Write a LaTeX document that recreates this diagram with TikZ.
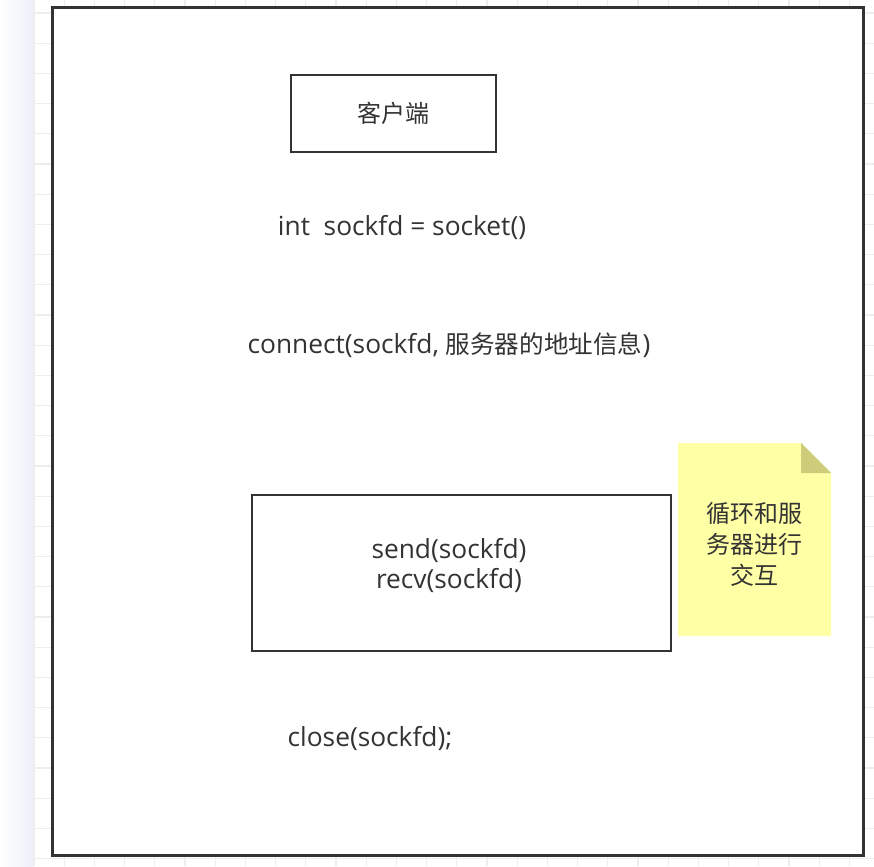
\documentclass[tikz,border=0pt]{standalone}
\usepackage{fontspec}
\setmainfont{Open Sans}
\newfontfamily\cjk{Noto Sans CJK SC}
\usetikzlibrary{calc}
\definecolor{txt}{HTML}{333333}
\definecolor{frame}{HTML}{333333}
\definecolor{gridc}{HTML}{EDEDED}
\definecolor{notefill}{HTML}{FFFFA6}
\definecolor{notefold}{HTML}{CCCC7A}
\tikzset{
  boxstyle/.style={draw=frame, line width=2.8pt, fill=white, inner sep=0pt},
  label/.style={text=txt, font=\fontsize{26.3}{30}\selectfont, inner sep=0pt, align=center},
  cjklabel/.style={text=txt, font=\cjk\fontsize{24}{31}\selectfont, inner sep=0pt, align=center},
}
\begin{document}
\begin{tikzpicture}[x=1pt,y=-1pt]
\useasboundingbox (0,0) rectangle (874,866);
\fill[white] (0,0) rectangle (874,866);
\shade[left color=white, right color={rgb,255:red,238;green,240;blue,250}] (0,0) rectangle (33,866);
\foreach \i in {0,...,27} {
  \draw[gridc, line width=1.2pt] ({34+30.2*\i},0) -- ({34+30.2*\i},866);
}
\foreach \i in {0,...,28} {
  \draw[gridc, line width=1.2pt] (33,{13+30.2*\i}) -- (874,{13+30.2*\i});
}
% outer frame
\node[boxstyle, line width=3pt, minimum width=811pt, minimum height=847pt] (frame) at (457.5,431.5) {};
% client box
\node[boxstyle, minimum width=205pt, minimum height=77pt, cjklabel] (client) at (393.5,113.5) {客户端};
\node[label] (sock) at (402,228) {int\ \ sockfd = socket()};
\node[label] (conn) at (449,345) {connect(sockfd, {\cjk\fontsize{24.6}{31}\selectfont 服务器的地址信息})};
% send/recv box
\node[boxstyle, minimum width=419pt, minimum height=156pt] (loop) at (461.5,573) {};
\node[label] (sr) at (449,566) {send(sockfd)\\recv(sockfd)};
% note
\coordinate (n1) at (678,443);
\coordinate (n2) at (801,443);
\coordinate (n3) at (831,473);
\coordinate (n4) at (831,636);
\coordinate (n5) at (678,636);
\coordinate (n6) at (801,473);
\fill[notefill] (n1) -- (n2) -- (n3) -- (n4) -- (n5) -- cycle;
\fill[notefold] (n2) -- (n3) -- (n6) -- cycle;
\node[cjklabel] (note) at (754,544) {循环和服\\务器进行\\交互};
\node[label] (close) at (370,739) {close(sockfd);};
\end{tikzpicture}
\end{document}
